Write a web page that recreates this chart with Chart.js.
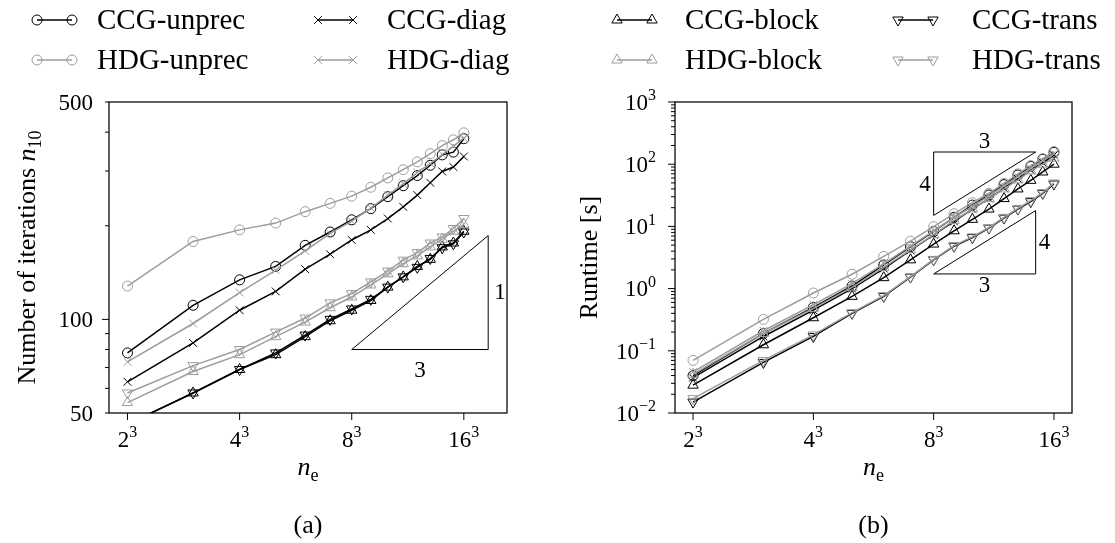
<!DOCTYPE html>
<html>
<head>
<meta charset="utf-8">
<title>CCG / HDG iterations and runtime</title>
<script src="https://cdn.jsdelivr.net/npm/chart.js@4.4.1/dist/chart.umd.min.js"></script>
<style>
  body { margin: 0; background: #fff; }
  #wrap { position: relative; width: 1115px; height: 543px; overflow: hidden; }
  canvas { position: absolute; top: 0; }
</style>
</head>
<body>
<div id="wrap">
  <canvas id="chartA" width="557" height="543" style="left:0"></canvas>
  <canvas id="chartB" width="558" height="543" style="left:557px"></canvas>
  <canvas id="legend" width="1115" height="90" style="left:0"></canvas>
</div>
<script>
// n such that n_e = n^3
const nValues = [2, 3, 4, 5, 6, 7, 8, 9, 10, 11, 12, 13, 14, 15, 16];
const seriesNames = ['CCG-unprec', 'HDG-unprec', 'CCG-diag', 'HDG-diag', 'CCG-block', 'HDG-block', 'CCG-trans', 'HDG-trans'];

// (a) number of iterations n_10
const itCCGunprec = [78, 111, 134, 148, 173, 191, 209, 227, 248, 269, 290, 313, 338, 345, 381];
const itHDGunprec = [128, 178, 194, 204, 222, 236, 249, 266, 285, 303, 321, 341, 362, 378, 398];
const itCCGdiag = [63, 84, 107, 123, 145, 162, 180, 194, 211, 230, 251, 275, 299, 309, 334];
const itHDGdiag = [73, 97, 122, 144, 166, 189, 207, 228, 251, 273, 297, 317, 339, 360, 383];
const itCCGblock = [46, 58, 69, 77, 88, 99, 107, 115, 127, 137, 148, 156, 171, 176, 192];
const itHDGblock = [54, 68, 77, 88, 98, 109, 118, 129, 140, 151, 160, 171, 181, 192, 202];
const itCCGtrans = [46, 58, 69, 78, 89, 100, 108, 116, 127, 137, 147, 157, 170, 175, 191];
const itHDGtrans = [58, 71, 80, 91, 101, 113, 121, 132, 143, 155, 164, 176, 184, 196, 211];

// (b) runtime [s]
const rtCCGunprec = [0.040, 0.19, 0.50, 1.1, 2.4, 4.7, 8.3, 14, 22, 32, 47, 67, 92, 120, 155];
const rtHDGunprec = [0.070, 0.32, 0.85, 1.7, 3.3, 5.8, 9.9, 16, 24, 34, 49, 70, 95, 123, 160];
const rtCCGdiag = [0.037, 0.17, 0.45, 1.0, 2.1, 4.1, 7.3, 12, 19, 28, 41, 58, 80, 106, 140];
const rtHDGdiag = [0.046, 0.21, 0.55, 1.2, 2.5, 4.8, 8.5, 14, 21, 31, 45, 63, 86, 113, 148];
const rtCCGblock = [0.028, 0.125, 0.34, 0.75, 1.5, 2.9, 5.2, 8.5, 13, 19, 28, 40, 55, 75, 100];
const rtHDGblock = [0.042, 0.19, 0.48, 1.05, 2.2, 4.2, 7.4, 12.5, 19, 28, 40, 56, 78, 100, 125];
const rtCCGtrans = [0.015, 0.065, 0.17, 0.40, 0.75, 1.53, 2.9, 4.8, 6.6, 9.4, 13.6, 19, 25, 34, 48];
const rtHDGtrans = [0.017, 0.070, 0.18, 0.41, 0.77, 1.56, 2.95, 4.9, 6.8, 9.6, 14, 19.5, 26, 35, 50];

// tick labels
const xTickValues = [2, 4, 8, 16];
const xTickLabels = [['2', '3'], ['4', '3'], ['8', '3'], ['16', '3']];
const itTickValues = [50, 60, 70, 80, 90, 100, 200, 300, 400, 500];
const itTickLabels = { 50: '50', 100: '100', 500: '500' };
const rtDecades = [-2, -1, 0, 1, 2, 3];

const SERIF = '"Liberation Serif", "DejaVu Serif", serif';
const GRAY = '#9c9c9c';
const seriesColors = ['#000', GRAY, '#000', GRAY, '#000', GRAY, '#000', GRAY];
const seriesMarkers = ['circle', 'circle', 'crossRot', 'crossRot', 'triangle', 'triangle', 'triangle', 'triangle'];
const seriesRotation = [0, 0, 0, 0, 0, 0, 180, 180];
const markerRadius = { circle: 5, crossRot: 5.5, triangle: 6 };

function buildDatasets(lists) {
  return lists.map((vals, i) => ({
    label: seriesNames[i],
    data: nValues.map((n, k) => ({ x: n, y: vals[k] })),
    borderColor: seriesColors[i],
    borderWidth: 1.5,
    pointStyle: seriesMarkers[i],
    pointRotation: seriesRotation[i],
    pointRadius: markerRadius[seriesMarkers[i]],
    pointBorderWidth: 1,
    pointBorderColor: seriesColors[i],
    pointBackgroundColor: 'rgba(0,0,0,0)',
    fill: false,
    tension: 0,
    order: lists.length - i
  }));
}

function drawRich(ctx, pieces, x, y, align) {
  let w = 0;
  pieces.forEach(p => { ctx.font = p.font; p.w = ctx.measureText(p.t).width; w += p.w; });
  let cx = align === 'right' ? x - w : align === 'center' ? x - w / 2 : x;
  ctx.textAlign = 'left';
  pieces.forEach(p => { ctx.font = p.font; ctx.fillText(p.t, cx, y + (p.dy || 0)); cx += p.w; });
}

function powPieces(base, exp, size) {
  const out = [{ t: base, font: size + 'px ' + SERIF }];
  if (exp) out.push({ t: exp, font: Math.round(size * 0.7) + 'px ' + SERIF, dy: -size * 0.42 });
  return out;
}

const axesDecor = {
  id: 'axesDecor',
  beforeDatasetsDraw(chart, args, o) {
    const { ctx, scales: { x, y } } = chart;
    ctx.save();
    ctx.strokeStyle = '#000';
    ctx.lineWidth = 1;
    o.triangles.forEach(tri => {
      ctx.beginPath();
      tri.forEach((p, i) => {
        const px = x.getPixelForValue(p[0]), py = y.getPixelForValue(p[1]);
        if (i) ctx.lineTo(px, py); else ctx.moveTo(px, py);
      });
      ctx.closePath();
      ctx.stroke();
    });
    ctx.fillStyle = '#000';
    ctx.textBaseline = 'middle';
    ctx.font = o.noteSize + 'px ' + SERIF;
    o.notes.forEach(n => {
      ctx.textAlign = n.align;
      ctx.fillText(n.text, x.getPixelForValue(n.at[0]) + n.dx, y.getPixelForValue(n.at[1]) + n.dy);
    });
    ctx.restore();
  },
  afterDraw(chart, args, o) {
    const { ctx, chartArea: a, scales: { x, y } } = chart;
    ctx.save();
    ctx.strokeStyle = '#000';
    ctx.fillStyle = '#000';
    ctx.lineWidth = 1.25;
    ctx.strokeRect(a.left, a.top, a.right - a.left, a.bottom - a.top);
    ctx.lineWidth = 1;
    ctx.textBaseline = 'alphabetic';
    // x ticks
    o.xTicks.forEach(t => {
      const px = x.getPixelForValue(t.v);
      ctx.beginPath(); ctx.moveTo(px, a.bottom); ctx.lineTo(px, a.bottom + 7); ctx.stroke();
      drawRich(ctx, powPieces(t.base, t.exp, o.tickSize), px, o.xLabelBase, 'center');
    });
    // y ticks
    o.yTicks.forEach(t => {
      const py = y.getPixelForValue(t.v);
      const len = t.major ? 7 : 4;
      ctx.beginPath(); ctx.moveTo(a.left, py); ctx.lineTo(a.left - len, py); ctx.stroke();
      if (t.base) drawRich(ctx, powPieces(t.base, t.exp, o.tickSize), a.left - o.yLabelGap, py + o.tickSize * 0.34, 'right');
    });
    // axis titles
    const big = o.titleSize + 'px ' + SERIF, bigIt = 'italic ' + big, sub = Math.round(o.titleSize * 0.7) + 'px ' + SERIF;
    drawRich(ctx, [{ t: 'n', font: bigIt }, { t: 'e', font: sub, dy: o.titleSize * 0.22 }], (a.left + a.right) / 2, o.xTitleBase, 'center');
    ctx.save();
    ctx.translate(o.yTitleX, (a.top + a.bottom) / 2);
    ctx.rotate(-Math.PI / 2);
    const yp = o.yTitle.map(p => ({ t: p.t, font: p.kind === 'it' ? bigIt : p.kind === 'sub' ? sub : big, dy: p.kind === 'sub' ? o.titleSize * 0.22 : 0 }));
    drawRich(ctx, yp, 0, o.titleSize * 0.3, 'center');
    ctx.restore();
    ctx.font = o.titleSize + 'px ' + SERIF;
    ctx.textAlign = 'center';
    ctx.fillText(o.caption, (a.left + a.right) / 2, o.captionBase);
    ctx.restore();
  }
};

function makeOptions(cfg) {
  return {
    responsive: false,
    animation: false,
    devicePixelRatio: 1,
    layout: { padding: { top: 102, right: cfg.padRight, left: 0, bottom: 0 } },
    plugins: {
      legend: { display: false },
      tooltip: { enabled: false },
      axesDecor: Object.assign({ tickSize: 23, titleSize: 26, noteSize: 23, xLabelBase: 447, xTitleBase: 475, captionBase: 533 }, cfg.decor)
    },
    scales: {
      x: {
        type: 'logarithmic', min: cfg.xMin, max: cfg.xMax,
        grid: { display: false }, border: { display: false }, ticks: { display: false },
        afterFit(s) { s.height = 130; }
      },
      y: {
        type: 'logarithmic', min: cfg.yMin, max: cfg.yMax,
        grid: { display: false }, border: { display: false }, ticks: { display: false },
        afterFit(s) { s.width = cfg.yWidth; }
      }
    }
  };
}

const supDigits = d => (d < 0 ? '\u2212' + (-d) : String(d));
const xTicks = xTickValues.map((v, i) => ({ v, base: xTickLabels[i][0], exp: xTickLabels[i][1], major: true }));
const itTicks = itTickValues.map(v => ({ v, major: v === 100, base: itTickLabels[v] || '', exp: '' }));
const rtTicks = [];
rtDecades.forEach(d => {
  const dec = Math.pow(10, d);
  rtTicks.push({ v: dec, major: true, base: '10', exp: supDigits(d) });
  if (d < 3) for (let m = 2; m <= 9; m++) rtTicks.push({ v: m * dec, major: false, base: '' });
});

new Chart(document.getElementById('chartA'), {
  type: 'line',
  data: { datasets: buildDatasets([itCCGunprec, itHDGunprec, itCCGdiag, itHDGdiag, itCCGblock, itHDGblock, itCCGtrans, itHDGtrans]) },
  options: makeOptions({
    padRight: 50, yWidth: 109,
    xMin: Math.pow(2, 0.835), xMax: Math.pow(2, 4.385), yMin: 50, yMax: 500,
    decor: {
      xTicks, yTicks: itTicks, yLabelGap: 16, yTitleX: 27, caption: '(a)',
      yTitle: [{ t: 'Number of iterations ' }, { t: 'n', kind: 'it' }, { t: '10', kind: 'sub' }],
      triangles: [[[8, 80], [18.6, 80], [18.6, 186]]],
      notes: [
        { text: '1', at: [18.6, 122], dx: 6, dy: 0, align: 'left' },
        { text: '3', at: [12.2, 80], dx: 0, dy: 21, align: 'center' }
      ]
    }
  }),
  plugins: [axesDecor]
});

new Chart(document.getElementById('chartB'), {
  type: 'line',
  data: { datasets: buildDatasets([rtCCGunprec, rtHDGunprec, rtCCGdiag, rtHDGdiag, rtCCGblock, rtHDGblock, rtCCGtrans, rtHDGtrans]) },
  options: makeOptions({
    padRight: 43, yWidth: 118,
    xMin: Math.pow(2, 0.85), xMax: Math.pow(2, 4.15), yMin: 0.01, yMax: 1000,
    decor: {
      xTicks, yTicks: rtTicks, yLabelGap: 19, yTitleX: 32, caption: '(b)',
      yTitle: [{ t: 'Runtime [s]' }],
      triangles: [[[8, 15], [8, 157], [14.4, 157]], [[8, 1.72], [14.4, 1.72], [14.4, 18]]],
      notes: [
        { text: '3', at: [10.73, 157], dx: 0, dy: -10, align: 'center' },
        { text: '4', at: [8, 48.5], dx: -3, dy: 1, align: 'right' },
        { text: '3', at: [10.73, 1.72], dx: 0, dy: 12, align: 'center' },
        { text: '4', at: [14.4, 5.56], dx: 3, dy: 1, align: 'left' }
      ]
    }
  }),
  plugins: [axesDecor]
});

// legend spanning both panels
function drawMarker(ctx, style, rot, x, y, r) {
  ctx.beginPath();
  if (style === 'circle') {
    ctx.arc(x, y, r, 0, Math.PI * 2);
  } else if (style === 'crossRot') {
    const d = r * Math.SQRT1_2;
    ctx.moveTo(x - d, y - d); ctx.lineTo(x + d, y + d);
    ctx.moveTo(x + d, y - d); ctx.lineTo(x - d, y + d);
  } else {
    const s = rot ? -1 : 1;
    ctx.moveTo(x, y - s * r);
    ctx.lineTo(x + r * 0.866, y + s * r / 2);
    ctx.lineTo(x - r * 0.866, y + s * r / 2);
    ctx.closePath();
  }
  ctx.stroke();
}
(function drawLegend() {
  const ctx = document.getElementById('legend').getContext('2d');
  const colX = [32, 313, 612, 893], textX = [97, 387, 685, 972], rowY = [20, 60];
  seriesNames.forEach((name, i) => {
    const col = Math.floor(i / 2), row = i % 2;
    const x0 = colX[col] + 5, x1 = colX[col] + 40, y = rowY[row];
    ctx.strokeStyle = seriesColors[i];
    ctx.lineWidth = 1.5;
    ctx.beginPath(); ctx.moveTo(x0, y); ctx.lineTo(x1, y); ctx.stroke();
    ctx.lineWidth = 1;
    const r = markerRadius[seriesMarkers[i]];
    drawMarker(ctx, seriesMarkers[i], seriesRotation[i], x0, y, r);
    drawMarker(ctx, seriesMarkers[i], seriesRotation[i], x1, y, r);
    ctx.fillStyle = '#000';
    ctx.font = '29px ' + SERIF;
    ctx.textBaseline = 'middle';
    ctx.fillText(name, textX[col], y + 1);
  });
})();
</script>
</body>
</html>
